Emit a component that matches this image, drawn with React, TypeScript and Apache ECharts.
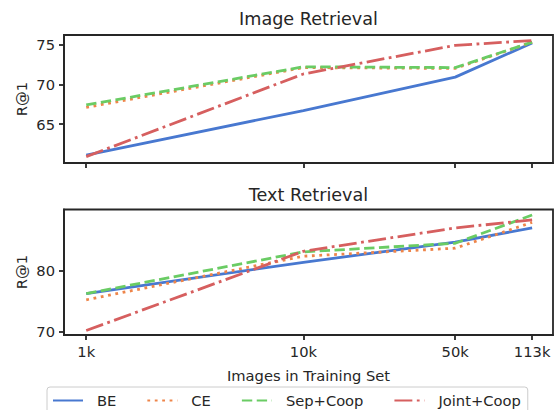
import React, { useEffect, useRef } from "react";
import * as echarts from "echarts";

const sizes = [1000, 10000, 50000, 113000];
const sizeLabels = ["1k", "10k", "50k", "113k"];
const seriesNames = ["BE", "CE", "Sep+Coop", "Joint+Coop"];
const colors = ["#4878d0", "#ee854a", "#6acc64", "#d65f5f"];

const imageBE = [61.1, 66.7, 70.9, 75.2];
const imageCE = [67.1, 72.1, 72.0, 75.3];
const imageSep = [67.4, 72.2, 72.1, 75.3];
const imageJoint = [60.9, 71.3, 74.9, 75.5];

const textBE = [76.2, 81.3, 84.6, 86.9];
const textCE = [75.2, 82.3, 83.6, 87.8];
const textSep = [76.2, 83.0, 84.4, 89.0];
const textJoint = [70.2, 83.1, 86.9, 88.2];

const imageTicks = [65, 70, 75];
const textTicks = [70, 80];

const FONT = '"DejaVu Sans", sans-serif';
const INK = "#262626";
const LW = 2.8;
const lineTypes: any[] = [
  "solid",
  [LW * 1, LW * 1.65],
  [LW * 3.7, LW * 1.6],
  [LW * 6.4, LW * 1.6, LW * 1, LW * 1.6],
];

function labelFor(v: number) {
  const i = sizes.findIndex((s) => Math.abs(Math.log10(s) - Math.log10(v)) < 0.01);
  return i >= 0 ? sizeLabels[i] : "";
}

export default function App() {
  const ref = useRef<HTMLDivElement>(null);
  useEffect(() => {
    if (!ref.current) return;
    const chart = echarts.init(ref.current, undefined, { renderer: "svg" });
    const imageData = [imageBE, imageCE, imageSep, imageJoint];
    const textData = [textBE, textCE, textSep, textJoint];

    const xAxisBase = (gridIndex: number, showLabels: boolean) => ({
      type: "log",
      logBase: 10,
      gridIndex,
      min: 790,
      max: 141000,
      splitLine: { show: false },
      minorTick: { show: false },
      axisLine: { show: true, lineStyle: { color: INK, width: 1.8 } },
      axisTick: {
        show: true,
        customValues: sizes,
        length: 5,
        lineStyle: { color: INK, width: 1.8 },
      },
      axisLabel: {
        show: showLabels,
        customValues: sizes,
        formatter: (v: number) => labelFor(v),
        fontSize: 14.7,
        fontFamily: FONT,
        color: INK,
        margin: 9,
      },
    });

    const yAxisBase = (gridIndex: number, min: number, max: number, ticks: number[]) => ({
      type: "value",
      gridIndex,
      min,
      max,
      splitLine: { show: false },
      axisLine: { show: true, lineStyle: { color: INK, width: 1.8 } },
      axisTick: {
        show: true,
        customValues: ticks,
        length: 5,
        lineStyle: { color: INK, width: 1.8 },
      },
      axisLabel: {
        customValues: ticks,
        fontSize: 14.7,
        fontFamily: FONT,
        color: INK,
        margin: 9,
      },
    });

    const mkSeries = (data: number[][], axisIndex: number) =>
      data.map((vals, k) => ({
        name: seriesNames[k],
        type: "line",
        xAxisIndex: axisIndex,
        yAxisIndex: axisIndex,
        data: sizes.map((s, i) => [s, vals[i]]),
        symbol: "none",
        color: colors[k],
        lineStyle: { color: colors[k], width: LW, type: lineTypes[k] },
        itemStyle: { color: colors[k] },
        z: 2 + k,
      }));

    chart.setOption({
      animation: false,
      grid: [
        { left: 64, right: 1, top: 35, height: 128, show: true, borderColor: INK, borderWidth: 1.8, backgroundColor: "transparent" },
        { left: 64, right: 1, top: 209.5, height: 125.5, show: true, borderColor: INK, borderWidth: 1.8, backgroundColor: "transparent" },
      ],
      xAxis: [xAxisBase(0, false), xAxisBase(1, true)],
      yAxis: [yAxisBase(0, 60.1, 76.2, imageTicks), yAxisBase(1, 69.47, 89.9, textTicks)],
      legend: {
        data: seriesNames,
        left: 47,
        top: 387,
        orient: "horizontal",
        padding: [6, 7, 8, 5],
        itemWidth: 30,
        itemHeight: 14,
        itemGap: 30,
        borderColor: "#cccccc",
        borderWidth: 1,
        borderRadius: 3,
        backgroundColor: "rgba(255,255,255,0.8)",
        itemStyle: { opacity: 0 },
        textStyle: { fontSize: 14.7, fontFamily: FONT, color: INK, padding: [0, 0, 0, 9] },
      },
      graphic: [
        { type: "text", x: 308.5, y: 18.5, style: { text: "Image Retrieval", font: `17.6px ${FONT}`, fill: INK, align: "center", verticalAlign: "middle" } },
        { type: "text", x: 308.5, y: 195, style: { text: "Text Retrieval", font: `17.6px ${FONT}`, fill: INK, align: "center", verticalAlign: "middle" } },
        { type: "text", x: 21, y: 99, rotation: Math.PI / 2, style: { text: "R@1", font: `14.7px ${FONT}`, fill: INK, align: "center", verticalAlign: "middle" } },
        { type: "text", x: 21, y: 272, rotation: Math.PI / 2, style: { text: "R@1", font: `14.7px ${FONT}`, fill: INK, align: "center", verticalAlign: "middle" } },
        { type: "text", x: 308.5, y: 375, style: { text: "Images in Training Set", font: `14.7px ${FONT}`, fill: INK, align: "center", verticalAlign: "middle" } },
      ],
      series: [...mkSeries(imageData, 0), ...mkSeries(textData, 1)],
    });
    return () => chart.dispose();
  }, []);
  return (
    <div
      ref={ref}
      style={{ position: "fixed", left: 0, top: 0, width: 554, height: 410, background: "#fff" }}
    />
  );
}
